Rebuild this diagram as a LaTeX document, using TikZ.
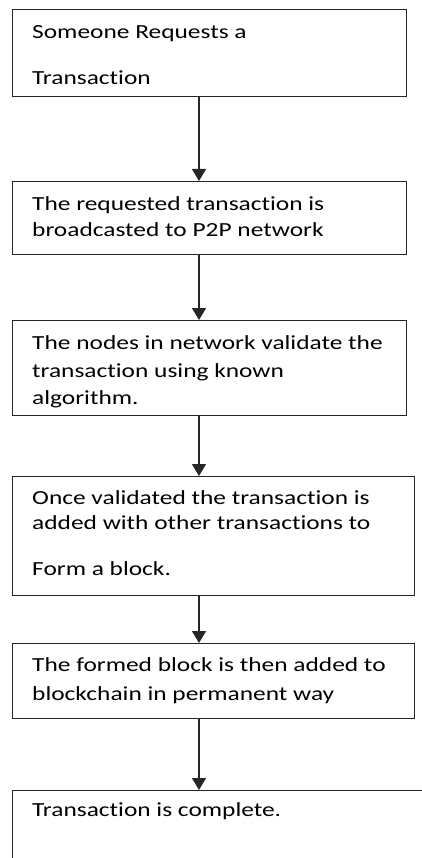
\documentclass[tikz,border=0pt]{standalone}
\usepackage{fontspec}
\setmainfont{Carlito}[FakeStretch=1.27,Ligatures=NoCommon]
\usetikzlibrary{positioning,arrows.meta}

\begin{document}
\begin{tikzpicture}[x=1pt,y=-1pt,
  stepbox/.style={draw=black!85,line width=1.2pt,rectangle,inner sep=0pt,anchor=north west},
  steptext/.style={inner sep=0pt,align=left,font=\fontsize{20}{27}\selectfont},
  flow/.style={draw=black!85,line width=1.2pt,-{Triangle[width=14pt,length=12pt]}}]
  \path[use as bounding box,clip] (0,0) rectangle (422,858);
  \coordinate (ax) at (199,0);
  % the boxes
  \node[stepbox,minimum width=394pt,minimum height=87pt] (b1) at (12,9) {};
  \node[stepbox,minimum width=394pt,minimum height=73pt] (b2) at (12,181) {};
  \node[stepbox,minimum width=394pt,minimum height=95pt] (b3) at (12,320) {};
  \node[stepbox,minimum width=402pt,minimum height=119pt] (b4) at (12,476) {};
  \node[stepbox,minimum width=402pt,minimum height=75pt] (b5) at (12,643) {};
  \node[stepbox,minimum width=430pt,minimum height=100pt] (b6) at (12,790) {};
  % the texts
  \node[steptext,below right=10.4pt and 20pt of b1.north west] (t1) {\strut Someone Requests a\\[19pt]Transaction};
  \node[steptext,below right=10.8pt and 20pt of b2.north west] (t2) {\strut The requested transaction is\\[-1pt]broadcasted to P2P network};
  \node[steptext,below right=10.4pt and 20pt of b3.north west] (t3) {\strut The nodes in network validate the\\[1pt]transaction using known\\algorithm.};
  \node[steptext,below right=9.1pt and 20pt of b4.north west] (t4) {\strut Once validated the transaction is\\[-1.5pt]added with other transactions to\\[19pt]Form a block.};
  \node[steptext,below right=9.8pt and 20pt of b5.north west] (t5) {\strut The formed block is then added to\\[2pt]blockchain in permanent way};
  \node[steptext,below right=7.8pt and 20pt of b6.north west] (t6) {\strut Transaction is complete.};
  % the arrows
  \draw[flow] (b1.south -| ax) -- (b2.north -| ax);
  \draw[flow] (b2.south -| ax) -- (b3.north -| ax);
  \draw[flow] (b3.south -| ax) -- (b4.north -| ax);
  \draw[flow] (b4.south -| ax) -- (b5.north -| ax);
  \draw[flow] (b5.south -| ax) -- (b6.north -| ax);
\end{tikzpicture}
\end{document}
